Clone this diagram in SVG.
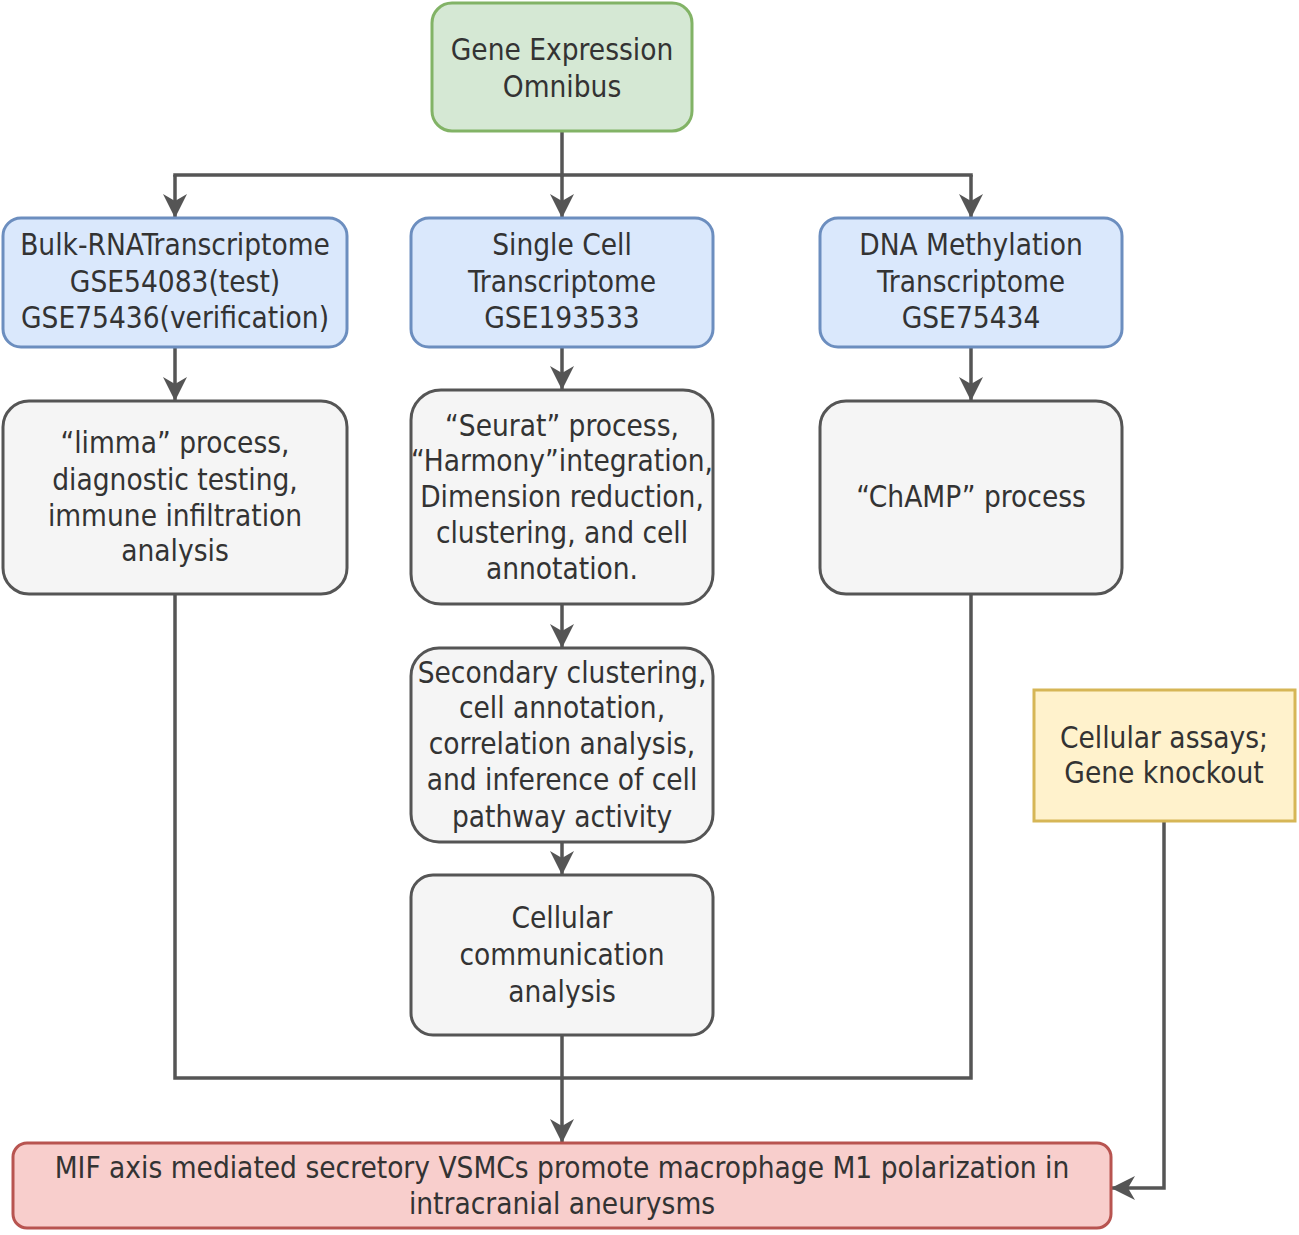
<svg xmlns="http://www.w3.org/2000/svg" width="1299" height="1235" viewBox="0 0 1299 1235">
<style>
text{font-family:"DejaVu Sans Condensed","DejaVu Sans",sans-serif;font-size:29.5px;fill:#333333;text-anchor:middle}
.box{stroke-width:3}
.green{fill:#d5e8d4;stroke:#82b366}
.blue{fill:#dae8fc;stroke:#6c8ebf}
.gray{fill:#f5f5f5;stroke:#555555}
.yellow{fill:#fff2cc;stroke:#d6b656}
.red{fill:#f8cecc;stroke:#b85450}
.c{fill:none;stroke:#555555;stroke-width:3.5;stroke-linecap:square}
.ca{fill:none;stroke:#555555;stroke-width:3.5;marker-end:url(#arr)}
</style>
<defs>
<marker id="arr" markerUnits="userSpaceOnUse" markerWidth="24" markerHeight="24" viewBox="0 0 24 24" refX="23" refY="12" orient="auto">
<path d="M0,0 L24,12 L0,24 L7,12 Z" fill="#555555"/>
</marker>
</defs>
<rect width="1299" height="1235" fill="#ffffff"/>
<g id="connectors">
<path class="c" d="M562,133 V175"/>
<path class="c" d="M175,175 H971"/>
<path class="ca" d="M175,175 V217"/>
<path class="ca" d="M562,175 V217"/>
<path class="ca" d="M971,175 V217"/>
<path class="ca" d="M175,347 V400"/>
<path class="ca" d="M562,347 V389"/>
<path class="ca" d="M971,347 V400"/>
<path class="ca" d="M562,604 V647"/>
<path class="ca" d="M562,842 V874"/>
<path class="c" d="M175,596 V1078 H971 V596"/>
<path class="ca" d="M562,1035 V1142"/>
<path class="ca" d="M1164,821 V1188 H1112"/>
</g>
<g id="geo">
<rect class="box green" x="432" y="3" width="260" height="128" rx="20"/>
<text x="562" y="60">Gene Expression</text>
<text x="562" y="97">Omnibus</text>
</g>
<g id="bulk">
<rect class="box blue" x="3" y="218" width="344" height="129" rx="18"/>
<text x="175" y="255">Bulk-RNATranscriptome</text>
<text x="175" y="292">GSE54083(test)</text>
<text x="175" y="328">GSE75436(verification)</text>
</g>
<g id="single">
<rect class="box blue" x="411" y="218" width="302" height="129" rx="18"/>
<text x="562" y="255">Single Cell</text>
<text x="562" y="292">Transcriptome</text>
<text x="562" y="328">GSE193533</text>
</g>
<g id="dna">
<rect class="box blue" x="820" y="218" width="302" height="129" rx="18"/>
<text x="971" y="255">DNA Methylation</text>
<text x="971" y="292">Transcriptome</text>
<text x="971" y="328">GSE75434</text>
</g>
<g id="limma">
<rect class="box gray" x="3" y="401" width="344" height="193" rx="26"/>
<text x="175" y="453">“limma” process,</text>
<text x="175" y="490">diagnostic testing,</text>
<text x="175" y="526">immune infiltration</text>
<text x="175" y="561">analysis</text>
</g>
<g id="seurat">
<rect class="box gray" x="411" y="390" width="302" height="214" rx="30"/>
<text x="562" y="436">“Seurat” process,</text>
<text x="562" y="471">“Harmony”integration,</text>
<text x="562" y="507">Dimension reduction,</text>
<text x="562" y="543">clustering, and cell</text>
<text x="562" y="579">annotation.</text>
</g>
<g id="champ">
<rect class="box gray" x="820" y="401" width="302" height="193" rx="26"/>
<text x="971" y="507">“ChAMP” process</text>
</g>
<g id="secondary">
<rect class="box gray" x="411" y="648" width="302" height="194" rx="28"/>
<text x="562" y="683">Secondary clustering,</text>
<text x="562" y="718">cell annotation,</text>
<text x="562" y="754">correlation analysis,</text>
<text x="562" y="790">and inference of cell</text>
<text x="562" y="827">pathway activity</text>
</g>
<g id="communication">
<rect class="box gray" x="411" y="875" width="302" height="160" rx="22"/>
<text x="562" y="928">Cellular</text>
<text x="562" y="965">communication</text>
<text x="562" y="1002">analysis</text>
</g>
<g id="assays">
<rect class="box yellow" x="1034" y="690" width="261" height="131"/>
<text x="1164" y="748">Cellular assays;</text>
<text x="1164" y="783">Gene knockout</text>
</g>
<g id="result">
<rect class="box red" x="13" y="1143" width="1098" height="85" rx="14"/>
<text x="562" y="1178">MIF axis mediated secretory VSMCs promote macrophage M1 polarization in</text>
<text x="562" y="1214">intracranial aneurysms</text>
</g>
</svg>
